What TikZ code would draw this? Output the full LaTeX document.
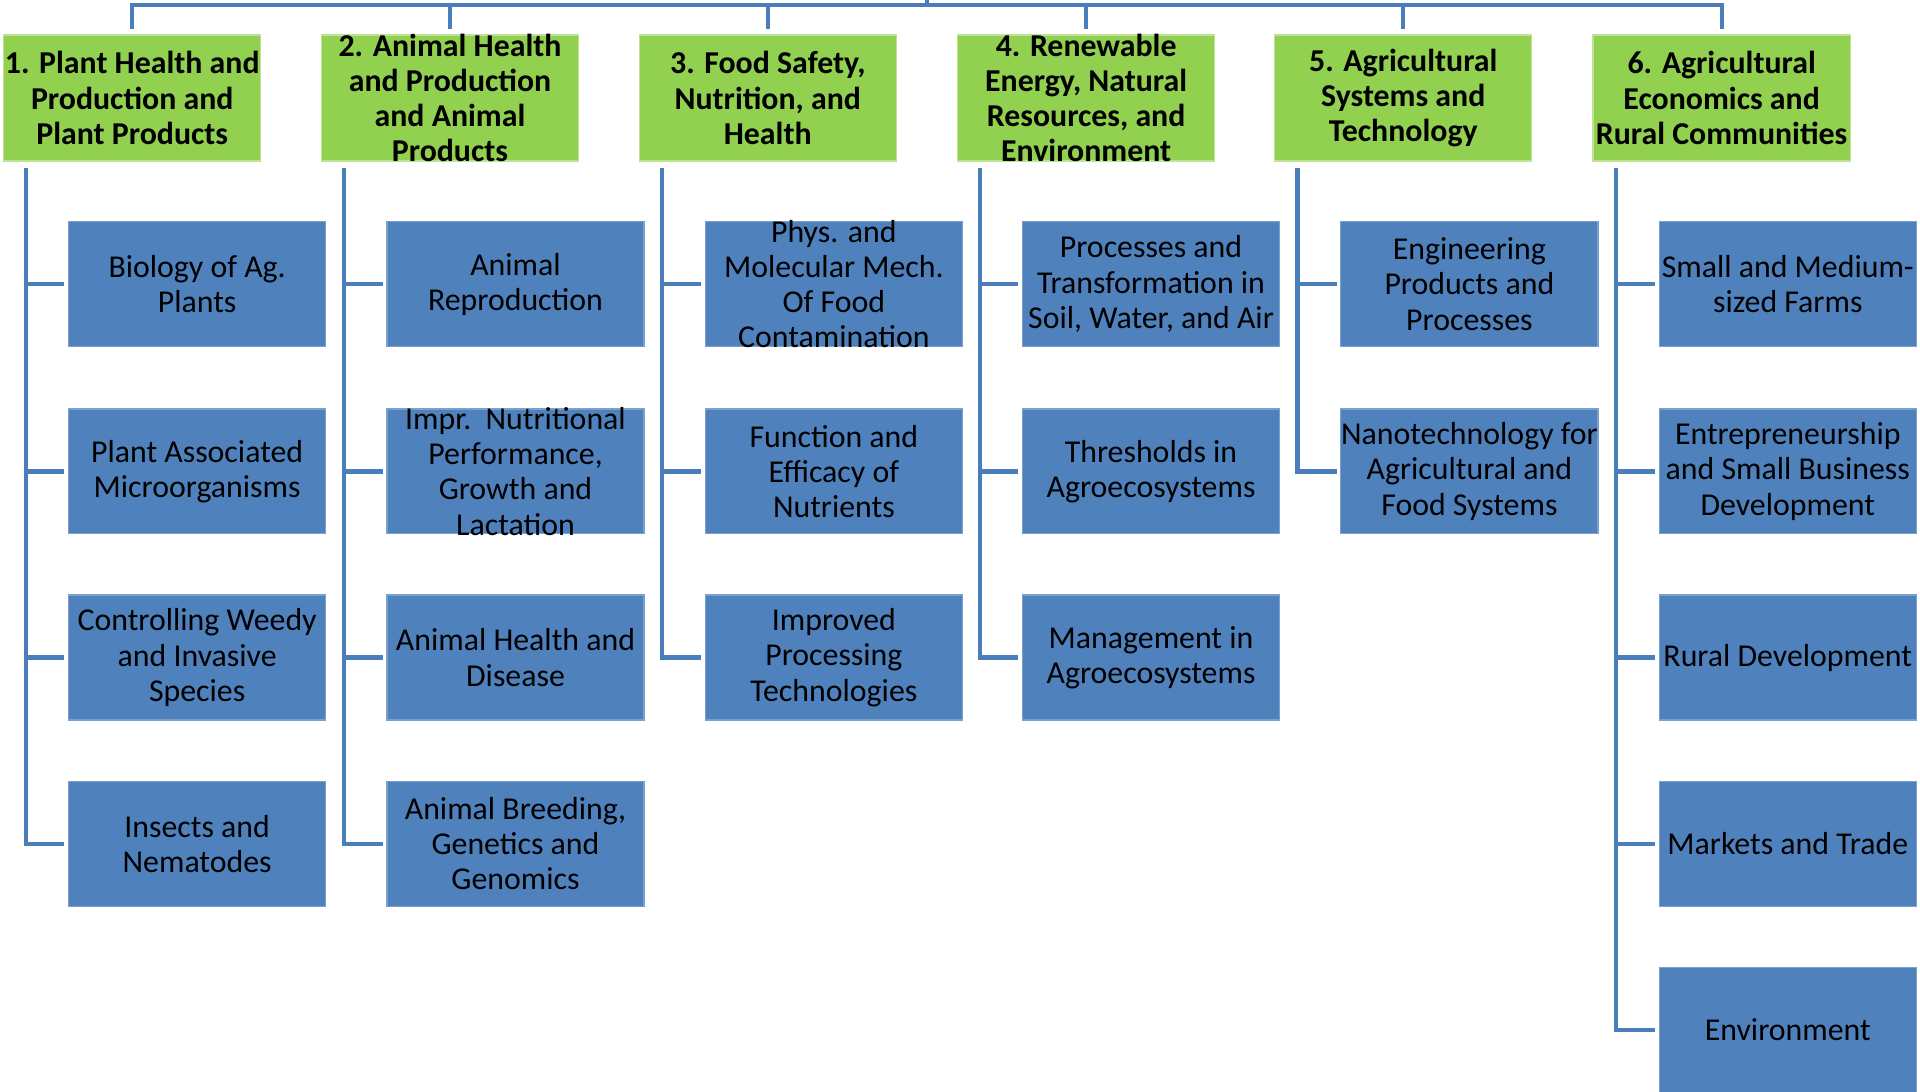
\documentclass[tikz,border=0pt]{standalone}
\usepackage{fontspec}
\setmainfont{Carlito}
\definecolor{areagreen}{HTML}{92D050}
\definecolor{topicblue}{HTML}{4F81BD}
\definecolor{linkblue}{HTML}{4A7EBB}
\tikzset{
  area/.style={fill=areagreen, draw=areagreen!60!white, line width=1pt, minimum width=210pt, minimum height=103pt, inner sep=0pt},
  topic/.style={fill=topicblue, draw=topicblue!75!white, line width=1pt, minimum width=210pt, minimum height=102pt, inner sep=0pt},
  areatext/.style={align=center, inner sep=0pt, font=\fontsize{26}{28.7}\selectfont\bfseries},
  topictext/.style={align=center, inner sep=0pt, font=\fontsize{26}{28.7}\selectfont},
  link/.style={linkblue, line width=3.5pt},
  branch/.style={link, shorten >=3pt},
}
\begin{document}
\begin{tikzpicture}[x=1pt,y=-1pt]
          \useasboundingbox (0,0) rectangle (1568,891);
          %%% the six program areas
          \node[area, label={[areatext]center:{1. Plant Health and\\Production and\\Plant Products}}] (h1) at (108,80) {};
          \node[area, label={[areatext]center:{2. Animal Health\\and Production\\and Animal\\Products}}] (h2) at (367.5,80) {};
          \node[area, label={[areatext]center:{3. Food Safety,\\Nutrition, and\\Health}}] (h3) at (627,80) {};
          \node[area, label={[areatext]center:{4. Renewable\\Energy, Natural\\Resources, and\\Environment}}] (h4) at (887,80) {};
          \node[area, label={[areatext]center:{5. Agricultural\\Systems and\\Technology}}] (h5) at (1146,80) {};
          \node[area, label={[areatext]center:{6. Agricultural\\Economics and\\Rural Communities}}] (h6) at (1406,80) {};
          % column 1
          \node[topic, label={[topictext]center:{Biology of Ag.\\Plants}}] (t1a) at (161,232) {};
          \node[topic, label={[topictext]center:{Plant Associated\\Microorganisms}}] (t1b) at (161,385) {};
          \node[topic, label={[topictext]center:{Controlling Weedy\\and Invasive\\Species}}] (t1c) at (161,537) {};
          \node[topic, label={[topictext]center:{Insects and\\Nematodes}}] (t1d) at (161,689) {};
          % column 2
          \node[topic, label={[topictext]center:{Animal\\Reproduction}}] (t2a) at (421,232) {};
          \node[topic, label={[topictext]center:{Impr.\ \ Nutritional\\Performance,\\Growth and\\Lactation}}] (t2b) at (421,385) {};
          \node[topic, label={[topictext]center:{Animal Health and\\Disease}}] (t2c) at (421,537) {};
          \node[topic, label={[topictext]center:{Animal Breeding,\\Genetics and\\Genomics}}] (t2d) at (421,689) {};
          % column 3
          \node[topic, label={[topictext]center:{Phys. and\\Molecular Mech.\\Of Food\\Contamination}}] (t3a) at (681,232) {};
          \node[topic, label={[topictext]center:{Function and\\Efficacy of\\Nutrients}}] (t3b) at (681,385) {};
          \node[topic, label={[topictext]center:{Improved\\Processing\\Technologies}}] (t3c) at (681,537) {};
          % column 4
          \node[topic, label={[topictext]center:{Processes and\\Transformation in\\Soil, Water, and Air}}] (t4a) at (940,232) {};
          \node[topic, label={[topictext]center:{Thresholds in\\Agroecosystems}}] (t4b) at (940,385) {};
          \node[topic, label={[topictext]center:{Management in\\Agroecosystems}}] (t4c) at (940,537) {};
          % column 5
          \node[topic, label={[topictext]center:{Engineering\\Products and\\Processes}}] (t5a) at (1200,232) {};
          \node[topic, label={[topictext]center:{Nanotechnology for\\Agricultural and\\Food Systems}}] (t5b) at (1200,385) {};
          % column 6
          \node[topic, label={[topictext]center:{Small and Medium-\\sized Farms}}] (t6a) at (1460,232) {};
          \node[topic, label={[topictext]center:{Entrepreneurship\\and Small Business\\Development}}] (t6b) at (1460,385) {};
          \node[topic, label={[topictext]center:{Rural Development}}] (t6c) at (1460,537) {};
          \node[topic, label={[topictext]center:{Markets and Trade}}] (t6d) at (1460,689) {};
          \node[topic, label={[topictext]center:{Environment}}] (t6e) at (1460,841) {};
          %%% top bar
          \coordinate (root) at (757,-2);
          \coordinate (rootfoot) at (757,4.5);
          \draw[link] (root) -- (rootfoot);
          \draw[link] ([yshift=4.6pt]h1.north) -- ([yshift=24pt]h1.north) -- ([yshift=24pt]h6.north) -- ([yshift=4.6pt]h6.north);
          \draw[link] ([yshift=4.6pt]h2.north) -- ([yshift=24pt]h2.north);
          \draw[link] ([yshift=4.6pt]h3.north) -- ([yshift=24pt]h3.north);
          \draw[link] ([yshift=4.6pt]h4.north) -- ([yshift=24pt]h4.north);
          \draw[link] ([yshift=4.6pt]h5.north) -- ([yshift=24pt]h5.north);
          %%% spines
          \draw[branch] ([xshift=19pt,yshift=-5pt]h1.south west) |- (t1d.west);
          \draw[branch] ([xshift=-34pt]t1a.west) -- (t1a.west);
          \draw[branch] ([xshift=-34pt]t1b.west) -- (t1b.west);
          \draw[branch] ([xshift=-34pt]t1c.west) -- (t1c.west);
          \draw[branch] ([xshift=19pt,yshift=-5pt]h2.south west) |- (t2d.west);
          \draw[branch] ([xshift=-34pt]t2a.west) -- (t2a.west);
          \draw[branch] ([xshift=-34pt]t2b.west) -- (t2b.west);
          \draw[branch] ([xshift=-34pt]t2c.west) -- (t2c.west);
          \draw[branch] ([xshift=19pt,yshift=-5pt]h3.south west) |- (t3c.west);
          \draw[branch] ([xshift=-34pt]t3a.west) -- (t3a.west);
          \draw[branch] ([xshift=-34pt]t3b.west) -- (t3b.west);
          \draw[branch] ([xshift=19pt,yshift=-5pt]h4.south west) |- (t4c.west);
          \draw[branch] ([xshift=-34pt]t4a.west) -- (t4a.west);
          \draw[branch] ([xshift=-34pt]t4b.west) -- (t4b.west);
          \draw[branch] ([xshift=19pt,yshift=-5pt]h5.south west) |- (t5b.west);
          \draw[branch] ([xshift=-34pt]t5a.west) -- (t5a.west);
          \draw[branch] ([xshift=19pt,yshift=-5pt]h6.south west) |- (t6e.west);
          \draw[branch] ([xshift=-34pt]t6a.west) -- (t6a.west);
          \draw[branch] ([xshift=-34pt]t6b.west) -- (t6b.west);
          \draw[branch] ([xshift=-34pt]t6c.west) -- (t6c.west);
          \draw[branch] ([xshift=-34pt]t6d.west) -- (t6d.west);
\end{tikzpicture}
\end{document}
